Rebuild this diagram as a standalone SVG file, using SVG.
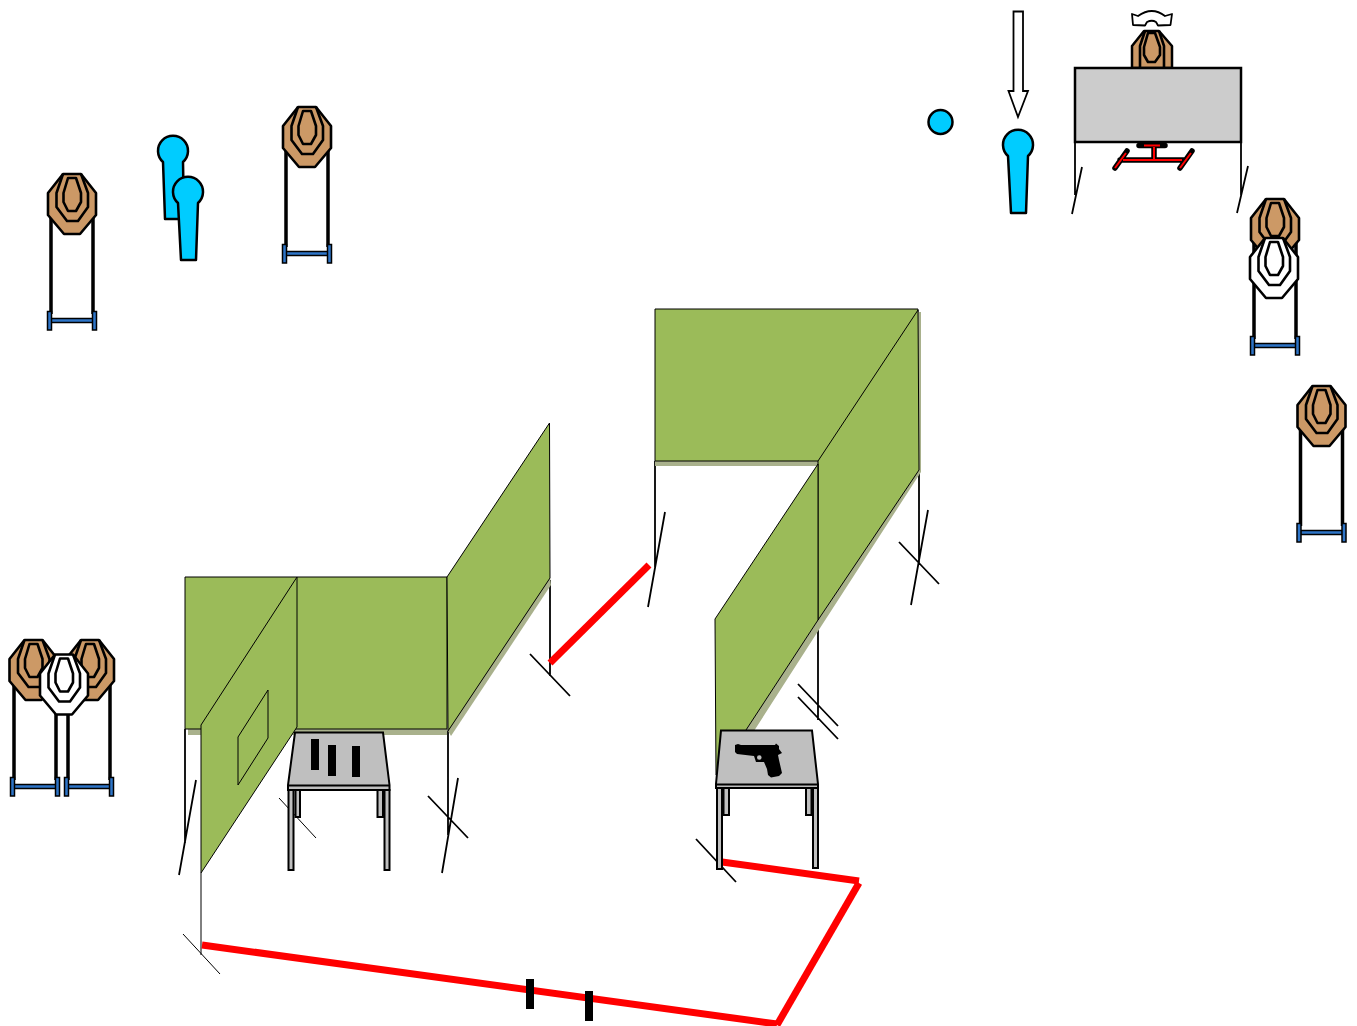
<svg xmlns="http://www.w3.org/2000/svg" xmlns:xlink="http://www.w3.org/1999/xlink" width="1357" height="1026" viewBox="0 0 1357 1026">
<style>
.panel{fill:#9bbb59;stroke:#000;stroke-width:1;stroke-linejoin:round}
.shadow{fill:#a9b18c;stroke:none}
.thin{stroke:#000;stroke-width:1.800;fill:none}
.hair{stroke:#000;stroke-width:1;fill:none}
.red{stroke:#f00;stroke-width:7;fill:none}
.person{fill:#00ccff;stroke:#000;stroke-width:2.500;stroke-linejoin:round}
.table{fill:#bfbfbf;stroke:#000;stroke-width:2;stroke-linejoin:miter}
.ol{fill:none;stroke:#000;stroke-width:2.600;stroke-linejoin:round}
</style>
<defs>
<g id="stand">
<path d="M-21 0V110M21 0V110" stroke="#000" stroke-width="3.500" fill="none"/>
<rect x="-21" y="114.500" width="42" height="4" fill="#2e75c8" stroke="#000" stroke-width="1.500"/>
<rect x="-24.500" y="107.500" width="4" height="18.500" fill="#2e75c8" stroke="#000" stroke-width="1.500"/>
<rect x="20.500" y="107.500" width="4" height="18.500" fill="#2e75c8" stroke="#000" stroke-width="1.500"/>
</g>
<g id="rings">
<path class="ol" d="M-9 -30H9L24 -11V11L8 30H-8L-24 11V-11Z"/>
<path class="ol" d="M-9 -30L-15.500 -11V3L-5 17H6L16 3V-11L9 -30"/>
<path class="ol" d="M-4 -26H4L9 -11V-2L4 7H-4L-8.500 -2V-11Z"/>
</g>
<g id="brown"><path d="M-9 -30H9L24 -11V11L8 30H-8L-24 11V-11Z" fill="#cc9966"/><use xlink:href="#rings"/></g>
<g id="white"><path d="M-9 -30H9L24 -11V11L8 30H-8L-24 11V-11Z" fill="#fff"/><use xlink:href="#rings"/></g>
</defs>

<g id="connectors">
<path class="thin" d="M185 729V843M196 780L179 875M448 731V835M458 778L442 873M428 796L468 838M550 580V676M530 654L570 696M655 461V567M665 512L648 607M919 470V565M928 510L911 605M899 542L939 584M818 620V720M798 684L838 726M798 697L838 739M1075 142V195M1241 142V195M1082 167L1072 214M1248 166L1237 213M696 839L736 882"/>
<path class="hair" d="M201 873V955M183 934L220 974M279 798L316 838"/>
</g>

<g id="wall-left">
<path class="shadow" d="M188 729H447V735H188Z"/>
<rect class="panel" x="185" y="577" width="262" height="152"/>
<path class="shadow" d="M447 729L550 577L551 585L451 736Z"/>
<path class="panel" d="M447 577L549.500 423L550 578L448 731Z"/>
<path class="panel" d="M201 725L297 577V727L201 873Z"/>
<path class="panel" d="M238 737L268 690V738L238 785Z"/>
</g>

<g id="wall-right">
<path class="shadow" d="M655 461H818V466H655Z"/>
<rect class="panel" x="655" y="309" width="263" height="152"/>
<path class="shadow" d="M818 620L918 468L921 472L822 625L754 731L745 731Z"/>
<path class="shadow" d="M918 312H921V472H918Z"/>
<path class="panel" d="M818 461L918 310L919 470L818 620Z"/>
<path d="M715 619L818 464V620L746 730L716 775Z" fill="#9bbb59"/>
<path class="hair" d="M716 775L715 619L818 464V620L746 730"/>
</g>

<g id="red-lines">
<path class="red" d="M550 663L649 565"/>
<path class="red" d="M722 862L859 881"/>
<path class="red" d="M859 883L777 1025"/>
<path class="red" d="M777 1024L202 945"/>
<path d="M530 979V1009M589 991V1021" stroke="#000" stroke-width="8" fill="none"/>
</g>

<g id="table-left">
<path class="table" d="M295.500 790H300V817H295.500ZM377.500 790H383V817H377.500Z"/>
<path class="table" d="M288.500 790H293.500V870H288.500ZM384.500 790H389.500V870H384.500Z"/>
<path class="table" d="M295 732.500H383L389.500 785V790H288V785Z"/>
<path d="M288 785.500H389.500" stroke="#000" stroke-width="2"/>
<path d="M311 739h8v31h-8zM328 745h8v31h-8zM352 746h8v31h-8z" fill="#000"/>
</g>

<g id="table-right">
<path class="table" d="M723.500 788H729V815H723.500ZM806 788H811.500V815H806Z"/>
<path class="table" d="M717 788H722V869H717ZM813 788H818V868H813Z"/>
<path class="table" d="M721 730.500H812L818 784V788H716V784Z"/>
<path d="M716 784.500H818" stroke="#000" stroke-width="2"/>
<path id="pistol" fill="#000" fill-rule="evenodd" d="M735 745L738 744L741 745L775 745L776 743.500L779 746V749L782 753L778 755L779 760L782 773L779 776L771 777.500L768 775L767 769L764 762L756 762L754 756L737 754L735 752ZM757 757.500A2.300 2.300 0 1 0 761.600 757.500A2.300 2.300 0 1 0 757 757.500Z"/>
</g>

<g id="target-a"><use xlink:href="#stand" x="72" y="204"/><use xlink:href="#brown" x="72" y="204"/></g>
<g id="target-b"><use xlink:href="#stand" x="307" y="137"/><use xlink:href="#brown" x="307" y="137"/></g>
<g id="target-c"><use xlink:href="#stand" x="1275" y="229"/><use xlink:href="#brown" x="1275" y="229"/><use xlink:href="#white" x="1274" y="268"/></g>
<g id="target-d"><use xlink:href="#stand" x="1321.500" y="416"/><use xlink:href="#brown" x="1321.500" y="416"/></g>
<g id="target-e">
<use xlink:href="#stand" x="35" y="670"/><use xlink:href="#stand" x="89" y="670"/>
<use xlink:href="#brown" x="33.500" y="670"/><use xlink:href="#brown" x="90" y="670"/>
<use xlink:href="#white" x="64" y="684.500"/>
</g>

<g id="person-1"><path class="person" d="M163 162A15 15 0 1 1 183 162L184 219H165Z"/></g>
<g id="person-2"><path class="person" d="M178 203A15 15 0 1 1 198 203L196 260H181Z"/></g>
<g id="person-3"><path class="person" d="M1008 156A15 15 0 1 1 1028 156L1026 213H1011Z"/></g>
<g id="person-4"><circle class="person" cx="940.500" cy="122" r="12"/></g>

<g id="arrow"><path d="M1013.500 11.500H1023V91H1028L1018 117L1008.500 91H1013.500Z" fill="#fff" stroke="#000" stroke-width="1.800"/></g>

<g id="swing-target">
<path d="M1144 31H1159L1172 46V68H1132V46Z" fill="#cc9966" stroke="#000" stroke-width="2.500" stroke-linejoin="round"/>
<path class="ol" d="M1145 31L1140 46V68M1159 31L1164 46V68"/>
<path class="ol" d="M1148 33H1155L1160 47V55L1155 62H1148L1144 55V47Z"/>
<path d="M1132 14L1138 16Q1152 6 1165 16L1172 14L1170.500 25L1158 25.500L1156 22Q1152 19.500 1147 22L1145 25.500L1133 25Z" fill="#fff" stroke="#000" stroke-width="1.800" stroke-linejoin="round"/>
</g>
<g id="barrier">
<rect x="1075" y="68" width="166" height="74" fill="#cccccc" stroke="#000" stroke-width="2.500"/>
<path d="M1139 145.500H1165M1154 147V160M1120 160H1185M1127 151L1115 168M1192 151L1180 168" stroke="#000" stroke-width="5.500" stroke-linecap="round" fill="none"/>
<path d="M1144 145.500H1160M1154 147V159M1123 160H1182M1126 153L1115 168M1191 153L1180 168" stroke="#f00" stroke-width="2" fill="none"/>
</g>
</svg>
